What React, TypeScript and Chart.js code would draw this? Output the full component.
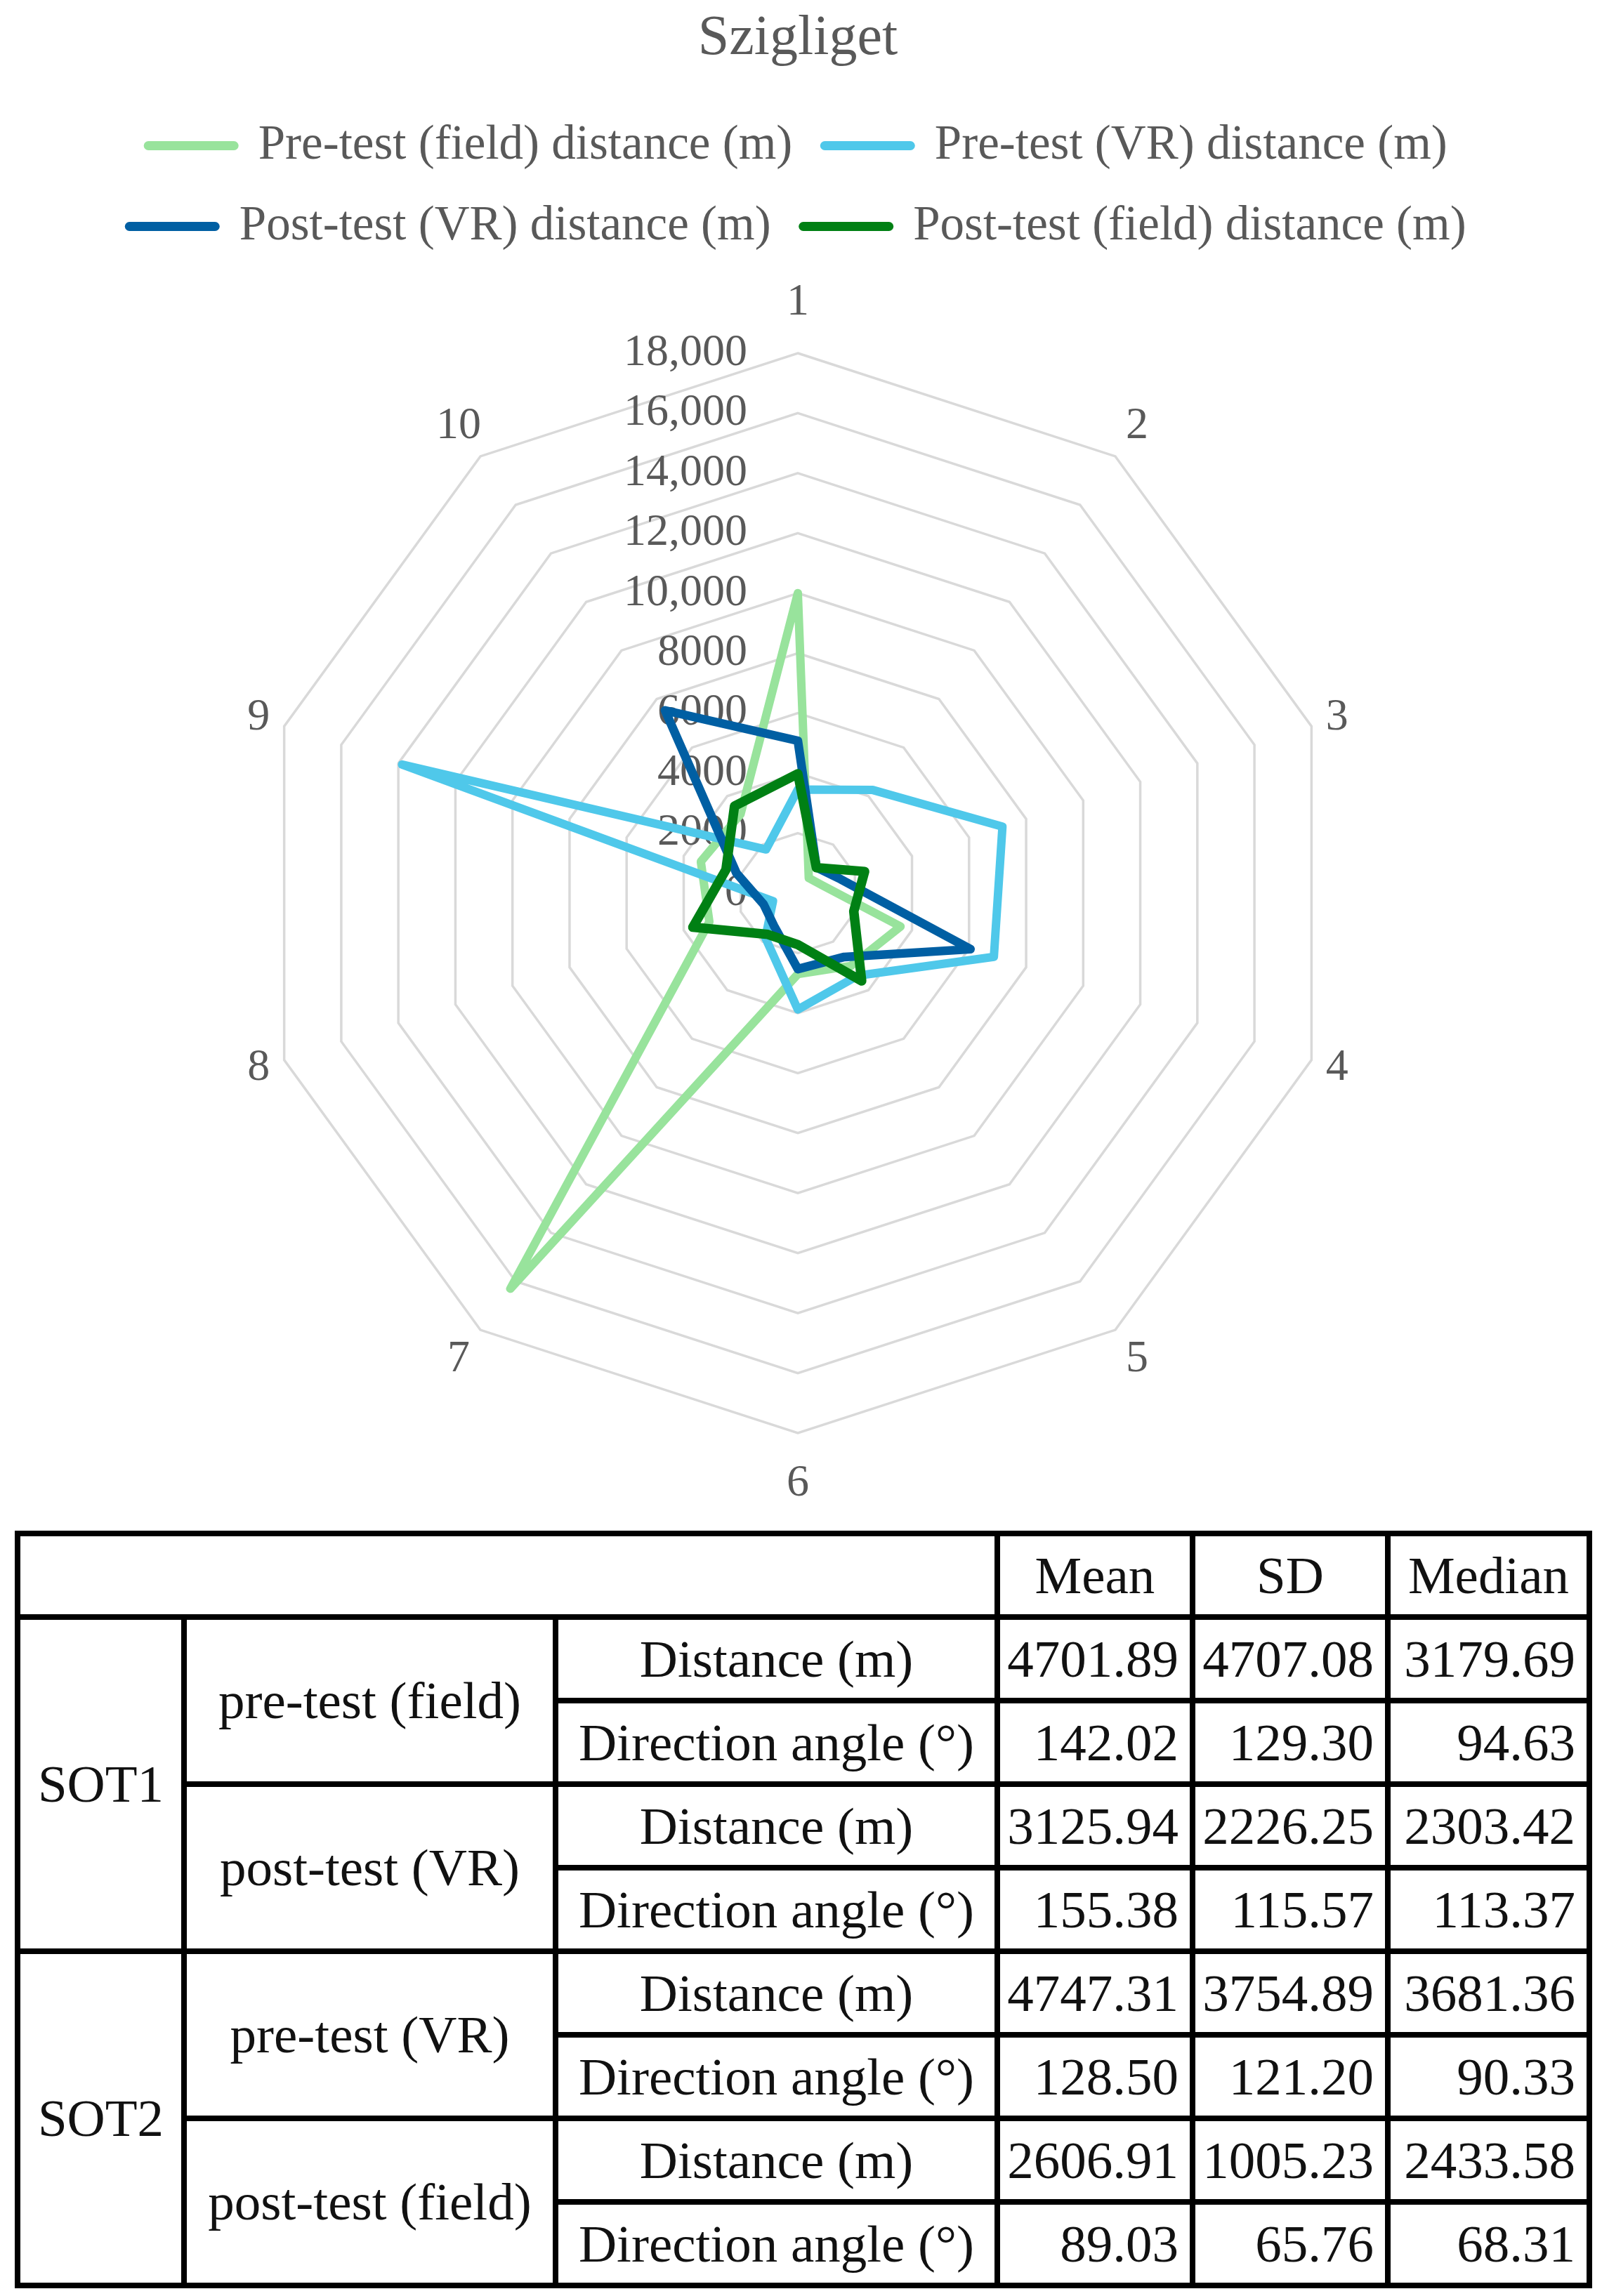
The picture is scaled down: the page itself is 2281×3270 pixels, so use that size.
import { useEffect, useRef } from "react";
import { Chart, registerables } from "chart.js";

Chart.register(...registerables);

const FONT = '"Liberation Serif", "Times New Roman", serif';
const GREY = "#595959";

// radar axes (trial numbers) and the radial tick labels as Excel printed them
const axisLabels = ["1", "2", "3", "4", "5", "6", "7", "8", "9", "10"];
const tickLabels = ["0", "2000", "4000", "6000", "8000", "10,000", "12,000", "14,000", "16,000", "18,000"];

// distances in metres
const preFieldDistance = [10000, 620, 850, 3600, 3000, 2700, 16300, 3100, 3400, 3250];
const preVrDistance = [3450, 4250, 7170, 6870, 3400, 3880, 1840, 870, 13870, 1800];
const postVrDistance = [5080, 1060, 1500, 6050, 2630, 2530, 1350, 1200, 2150, 7530];
const postFieldDistance = [3980, 1050, 2340, 1960, 3620, 1720, 1700, 3680, 2520, 3590];

const seriesLabels = [
  "Pre-test (field) distance (m)",
  "Pre-test (VR) distance (m)",
  "Post-test (VR) distance (m)",
  "Post-test (field) distance (m)",
];
const seriesData = [preFieldDistance, preVrDistance, postVrDistance, postFieldDistance];
const seriesColors = ["#98E39C", "#4FC8EA", "#005FA3", "#008014"];
const seriesWidths = [12, 12, 12.5, 13.5];
const seriesOrder = [3, 2, 1, 0];

// statistics table
const groupLabels = ["SOT1", "SOT2"];
const testLabels = ["pre-test (field)", "post-test (VR)", "pre-test (VR)", "post-test (field)"];
const measureLabels = ["Distance (m)", "Direction angle (°)"];
const statHeaders = ["Mean", "SD", "Median"];
const meanValues = ["4701.89", "142.02", "3125.94", "155.38", "4747.31", "128.50", "2606.91", "89.03"];
const sdValues = ["4707.08", "129.30", "2226.25", "115.57", "3754.89", "121.20", "1005.23", "65.76"];
const medianValues = ["3179.69", "94.63", "2303.42", "113.37", "3681.36", "90.33", "2433.58", "68.31"];

// Excel-like labels: ticks left of the vertical axis, numbers centred outside the web
const radarText = {
  id: "radarText",
  beforeDatasetsDraw(chart: any) {
    const r = chart.scales.r;
    const ctx = chart.ctx;
    ctx.save();
    ctx.fillStyle = GREY;
    ctx.font = `64px ${FONT}`;
    ctx.textAlign = "right";
    ctx.textBaseline = "middle";
    r.ticks.forEach((t: any, i: number) => {
      ctx.fillText(tickLabels[i], r.xCenter - 72, r.yCenter - r.getDistanceFromCenterForValue(t.value));
    });
    ctx.textAlign = "center";
    axisLabels.forEach((lab, i) => {
      const c = Math.cos(r.getIndexAngle(i));
      const p = r.getPointPosition(i, r.drawingArea + 38 + 34 * c ** 4);
      ctx.fillText(lab, p.x, p.y);
    });
    ctx.restore();
  },
};

const RadarChart = () => {
  const canvasRef = useRef<HTMLCanvasElement | null>(null);

  useEffect(() => {
    if (!canvasRef.current) return;
    const chart = new Chart(canvasRef.current, {
      type: "radar",
      data: {
        labels: axisLabels,
        datasets: seriesData.map((data, i) => ({
          label: seriesLabels[i],
          data,
          borderColor: seriesColors[i],
          backgroundColor: seriesColors[i],
          borderWidth: seriesWidths[i],
          borderJoinStyle: "round",
          pointRadius: 0,
          pointHoverRadius: 0,
          pointBorderWidth: seriesWidths[i],
          pointBorderColor: seriesColors[i],
          fill: false,
          tension: 0,
          order: seriesOrder[i],
        })),
      },
      options: {
        animation: false,
        responsive: true,
        maintainAspectRatio: false,
        layout: { padding: { right: 9, bottom: 137 } },
        plugins: {
          title: {
            display: true,
            text: "Szigliget",
            color: GREY,
            font: { family: FONT, size: 80, weight: "normal", lineHeight: 1.2 },
            padding: { top: 0, bottom: 23 },
          },
          legend: {
            position: "top",
            labels: {
              usePointStyle: true,
              pointStyle: "line",
              pointStyleWidth: 122,
              padding: 46,
              color: GREY,
              font: { family: FONT, size: 69 },
              generateLabels: (chart: any) =>
                Chart.defaults.plugins.legend.labels
                  .generateLabels(chart)
                  .map((item: any) => ({ ...item, lineWidth: 13, lineCap: "round" })),
              sort: (a: any, b: any) => a.datasetIndex - b.datasetIndex,
            },
          },
          // empty subtitle used as a gap between the legend and the web
          subtitle: {
            display: true,
            text: "",
            position: "top",
            weight: 500,
            padding: 0,
            font: { size: 136, lineHeight: 1 },
          },
          tooltip: { enabled: false },
        },
        scales: {
          r: {
            min: 0,
            max: 18000,
            ticks: { stepSize: 2000, display: false },
            grid: { color: "#D9D9D9", lineWidth: 3.5 },
            angleLines: { display: false },
            pointLabels: { display: false },
          },
        },
      } as any,
      plugins: [radarText],
    });

    return () => {
      chart.destroy();
    };
  }, []);

  return (
    <div style={{ position: "relative", width: "100%", height: 2170 }}>
      <canvas ref={canvasRef} />
    </div>
  );
};

const cell: React.CSSProperties = {
  border: "8px solid #000",
  padding: "0 14px",
  height: 111,
  textAlign: "center",
  whiteSpace: "nowrap",
};
const numCell: React.CSSProperties = { ...cell, textAlign: "right", paddingRight: 16, paddingLeft: 4 };

const StatsTable = () => (
  <table
    style={{
      borderCollapse: "collapse",
      marginTop: 2,
      marginLeft: 13,
      width: 2238,
      tableLayout: "fixed",
      fontFamily: FONT,
      fontSize: 75,
      color: "#111",
    }}
  >
    <colgroup>
      <col style={{ width: 237 }} />
      <col style={{ width: 529 }} />
      <col style={{ width: 629 }} />
      <col style={{ width: 278 }} />
      <col style={{ width: 278 }} />
      <col style={{ width: 287 }} />
    </colgroup>
    <tbody>
      <tr>
        <td style={cell} colSpan={3} />
        {statHeaders.map((h) => (
          <td key={h} style={cell}>
            {h}
          </td>
        ))}
      </tr>
      {testLabels.map((test, t) =>
        measureLabels.map((measure, m) => {
          const row = t * 2 + m;
          return (
            <tr key={row}>
              {row % 4 === 0 && (
                <td style={cell} rowSpan={4}>
                  {groupLabels[row / 4]}
                </td>
              )}
              {m === 0 && (
                <td style={cell} rowSpan={2}>
                  {test}
                </td>
              )}
              <td style={cell}>{measure}</td>
              <td style={numCell}>{meanValues[row]}</td>
              <td style={numCell}>{sdValues[row]}</td>
              <td style={numCell}>{medianValues[row]}</td>
            </tr>
          );
        })
      )}
    </tbody>
  </table>
);

export default function App() {
  return (
    <div>
      <RadarChart />
      <StatsTable />
    </div>
  );
}
